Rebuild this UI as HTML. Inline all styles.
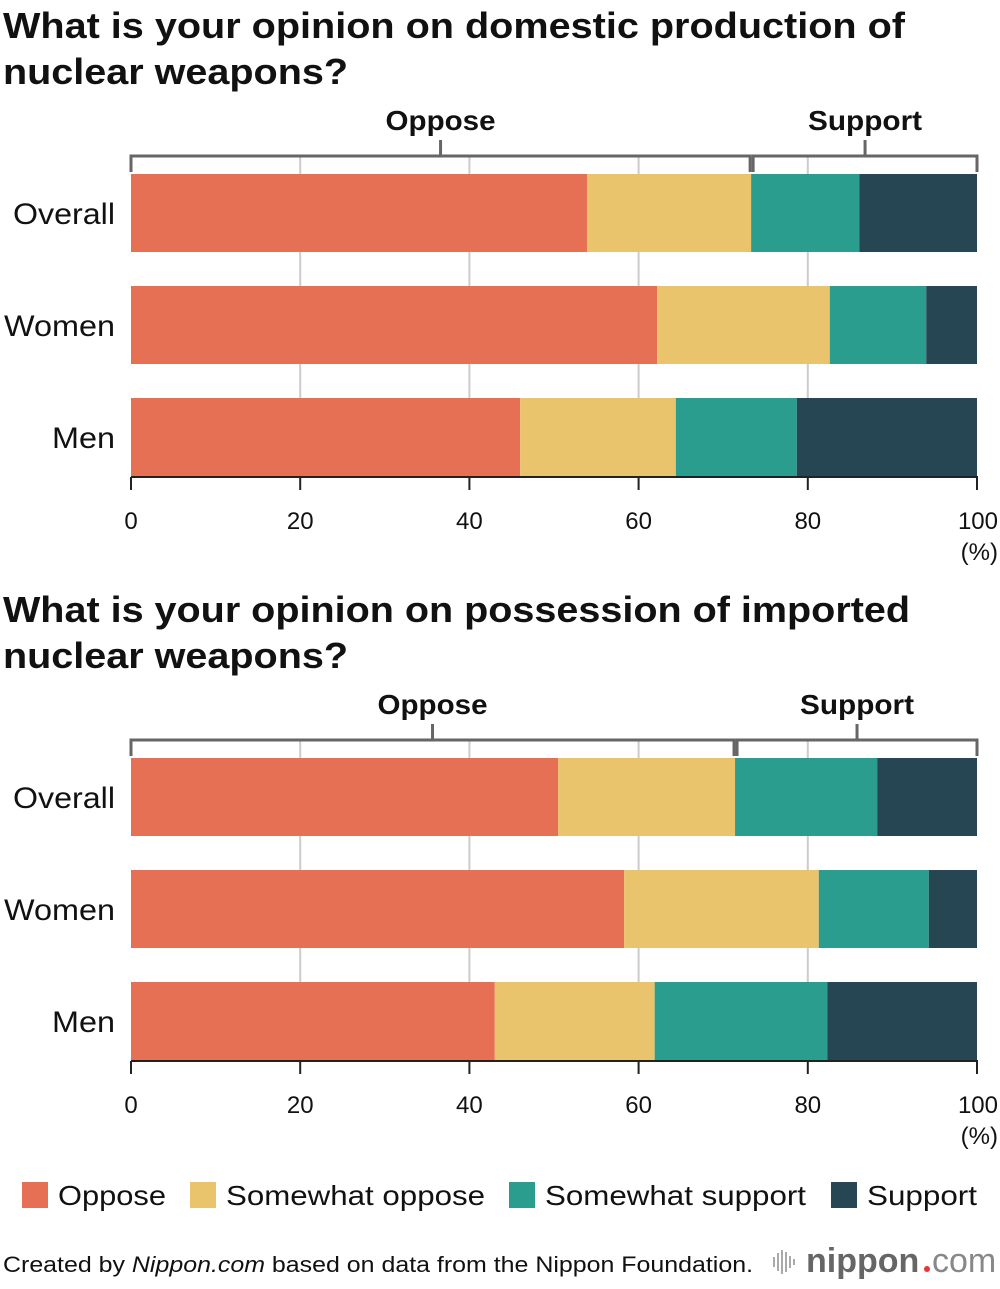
<!DOCTYPE html>
<html><head><meta charset="utf-8"><style>
body{margin:0;background:#fff;width:1000px;height:1284px;overflow:hidden;font-family:"Liberation Sans",Arial,sans-serif}
svg text{font-family:"Liberation Sans",Arial,sans-serif}
</style></head><body>
<svg id="c" width="1000" height="1284" xmlns="http://www.w3.org/2000/svg">
<text x="3" y="38" font-size="36" font-weight="bold" fill="#111" textLength="902" lengthAdjust="spacingAndGlyphs">What is your opinion on domestic production of</text>
<text x="3" y="84" font-size="36" font-weight="bold" fill="#111" textLength="345" lengthAdjust="spacingAndGlyphs">nuclear weapons?</text>
<text x="3" y="622" font-size="36" font-weight="bold" fill="#111" textLength="907" lengthAdjust="spacingAndGlyphs">What is your opinion on possession of imported</text>
<text x="3" y="668" font-size="36" font-weight="bold" fill="#111" textLength="345" lengthAdjust="spacingAndGlyphs">nuclear weapons?</text>
<g id="legend">
<rect x="22" y="1182" width="26" height="26" fill="#e67053"/>
<text x="58" y="1205" font-size="28" fill="#111" textLength="108" lengthAdjust="spacingAndGlyphs">Oppose</text>
<rect x="190" y="1182" width="26" height="26" fill="#e9c46c"/>
<text x="226" y="1205" font-size="28" fill="#111" textLength="259" lengthAdjust="spacingAndGlyphs">Somewhat oppose</text>
<rect x="509" y="1182" width="26" height="26" fill="#2a9d8e"/>
<text x="545" y="1205" font-size="28" fill="#111" textLength="261" lengthAdjust="spacingAndGlyphs">Somewhat support</text>
<rect x="831" y="1182" width="26" height="26" fill="#264653"/>
<text x="867" y="1205" font-size="28" fill="#111" textLength="110" lengthAdjust="spacingAndGlyphs">Support</text>
</g>
<text x="3" y="1272" font-size="22" fill="#111" textLength="750" lengthAdjust="spacingAndGlyphs">Created by <tspan font-style="italic">Nippon.com</tspan> based on data from the Nippon Foundation.</text>
<g>
<g stroke="#aaa" stroke-width="2"><line x1="774" y1="1257" x2="774" y2="1267"/><line x1="778" y1="1253" x2="778" y2="1271"/><line x1="782" y1="1250" x2="782" y2="1274"/><line x1="786" y1="1252" x2="786" y2="1272"/><line x1="790" y1="1256" x2="790" y2="1268"/><line x1="794" y1="1259" x2="794" y2="1265"/></g>
<text x="806" y="1272" font-size="34" font-weight="bold" fill="#666">nippon</text>
<circle cx="927" cy="1269" r="3" fill="#e33"/>
<text x="932" y="1272" font-size="34" fill="#888">com</text>
</g>
</svg>
<script>
const categories = ["Overall","Women","Men"];
const categoryWidths = [102, 111, 63];
const seriesNames = ["Oppose","Somewhat oppose","Somewhat support","Support"];
const chart1Oppose = [53.9, 62.2, 46.0];
const chart1SomewhatOppose = [19.4, 20.4, 18.4];
const chart1SomewhatSupport = [12.8, 11.4, 14.3];
const chart1Support = [13.9, 6.0, 21.3];
const chart2Oppose = [50.5, 58.3, 43.0];
const chart2SomewhatOppose = [20.9, 23.0, 18.9];
const chart2SomewhatSupport = [16.8, 13.0, 20.4];
const chart2Support = [11.8, 5.7, 17.7];
const tickValues = [0,20,40,60,80,100];
const colors = ["#e67053","#e9c46c","#2a9d8e","#264653"];
const svg = document.getElementById('c');
const NS = "http://www.w3.org/2000/svg";
const x0 = 131, x1 = 977;
function xs(v){ return x0 + (x1 - x0) * v / 100; }
function mk(tag, attrs, parent){ const e = document.createElementNS(NS, tag); for (const k in attrs) e.setAttribute(k, attrs[k]); (parent||svg).appendChild(e); return e; }
function drawChart(id, off, series){
  const g = mk('g', {});
  
  
  const top = 174 + off, pitch = 112, bh = 78, axisY = 477 + off;
  tickValues.slice(1,5).forEach(t => {
    const l = mk('line', {x1: xs(t), x2: xs(t), y1: 157+off, y2: axisY, stroke: '#ccc', 'stroke-width': 2}, g);
    
    
  });
  categories.forEach((c, i) => {
    const y = top + i * pitch;
    let acc = 0;
    series.forEach((s, k) => {
      const r = mk('rect', {x: xs(acc), y: y, width: xs(acc + s[i]) - xs(acc), height: bh, fill: colors[k]}, g);
      
      
      acc += s[i];
    });
    const t = mk('text', {x: 115 - categoryWidths[i], y: y + bh/2 + 11, 'font-size': 30, textLength: categoryWidths[i], lengthAdjust: 'spacingAndGlyphs', fill: '#111'}, g);
    t.textContent = c;
    
    
  });
  const ax = mk('line', {x1: x0, x2: x1+1, y1: axisY, y2: axisY, stroke: '#222', 'stroke-width': 2}, g);
  
  
  tickValues.forEach(t => {
    const l = mk('line', {x1: xs(t), x2: xs(t), y1: axisY, y2: axisY + 13, stroke: '#222', 'stroke-width': 2}, g);
    
    
    const tx = mk('text', {x: t === 100 ? 998 : xs(t), y: axisY + 52, 'font-size': 24, 'text-anchor': t === 100 ? 'end' : 'middle', fill: '#111'}, g);
    tx.textContent = t;
    
    
  });
  const u = mk('text', {x: 998, y: axisY + 83, 'font-size': 24, 'text-anchor': 'end', fill: '#111'}, g);
  u.textContent = '(%)';
  
  
  const oppEnd = xs(series[0][0] + series[1][0]);
  const br = [[x0, oppEnd - 1, 'Oppose', 110], [oppEnd + 2, x1, 'Support', 114]];
  br.forEach(b => {
    const by = 156 + off, mid = (b[0] + b[1]) / 2;
    const p = mk('path', {d: `M${b[0]},${by+16} V${by} H${b[1]} V${by+16} M${mid},${by} V${by-16}`, fill: 'none', stroke: '#666', 'stroke-width': 3}, g);
    
    
    const t = mk('text', {x: mid - b[3]/2, y: by - 26, 'font-size': 28, 'font-weight': 'bold', textLength: b[3], lengthAdjust: 'spacingAndGlyphs', fill: '#111'}, g);
    t.textContent = b[2];
    
    
  });
}
drawChart('chart-domestic-production', 0, [chart1Oppose, chart1SomewhatOppose, chart1SomewhatSupport, chart1Support]);
drawChart('chart-imported-possession', 584, [chart2Oppose, chart2SomewhatOppose, chart2SomewhatSupport, chart2Support]);
</script>
</body></html>
